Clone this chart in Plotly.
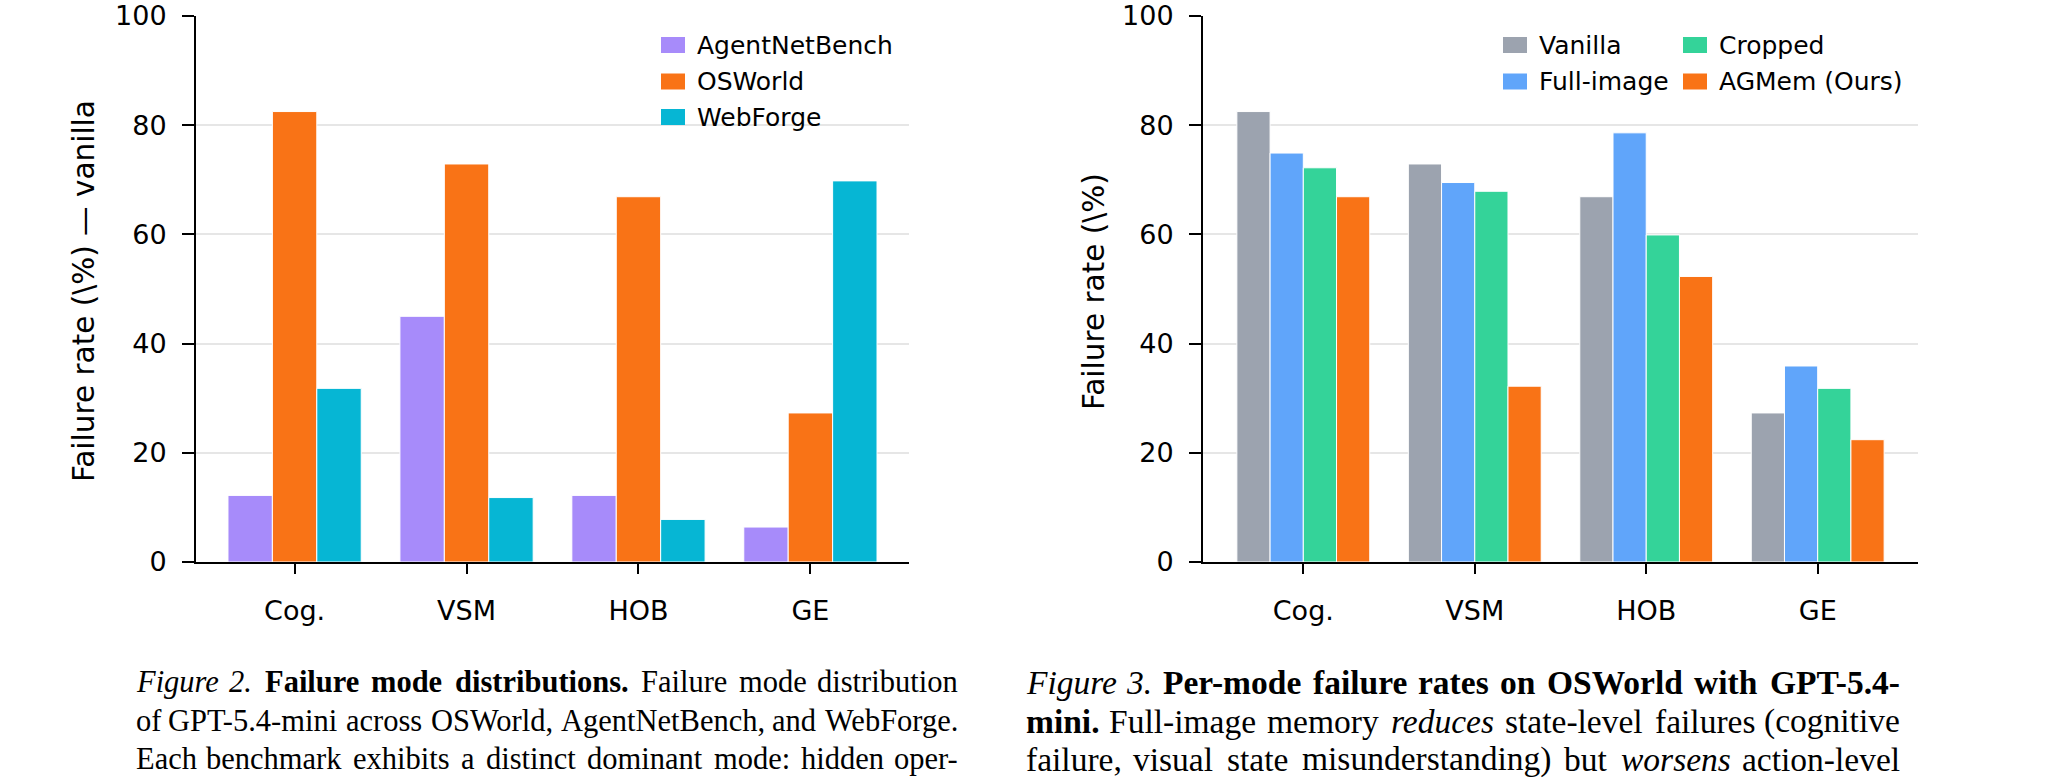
import plotly.graph_objects as go

# ---------------- data ----------------
categories = ["Cog.", "VSM", "HOB", "GE"]

# Figure 2 (left): vanilla failure rates per benchmark
agentnetbench = [12.2, 45.0, 12.2, 6.4]
osworld = [82.5, 72.9, 66.9, 27.3]
webforge = [31.8, 11.8, 7.8, 69.8]

# Figure 3 (right): OSWorld per-mode failure rates by memory variant
vanilla = [82.5, 72.9, 66.9, 27.3]
full_image = [74.9, 69.5, 78.6, 35.9]
cropped = [72.2, 67.9, 59.9, 31.8]
agmem = [66.9, 32.2, 52.3, 22.4]

y_ticks = [0, 20, 40, 60, 80, 100]

left_series = [("AgentNetBench", agentnetbench, "#a78bfa"),
               ("OSWorld", osworld, "#f97316"),
               ("WebForge", webforge, "#06b6d4")]
right_series = [("Vanilla", vanilla, "#9ca3af"),
                ("Full-image", full_image, "#60a5fa"),
                ("Cropped", cropped, "#34d399"),
                ("AGMem (Ours)", agmem, "#f97316")]

# caption lines as (text, style) segments: r=roman, i=italic, b=bold
captions_left = [
    [("Figure 2.", "i"), ("Failure mode distributions.", "b"), ("Failure mode distribution", "r")],
    [("of GPT-5.4-mini across OSWorld, AgentNetBench, and WebForge.", "r")],
    [("Each benchmark exhibits a distinct dominant mode: hidden oper-", "r")],
]
captions_right = [
    [("Figure 3.", "i"), ("Per-mode failure rates on OSWorld with GPT-5.4-", "b")],
    [("mini.", "b"), ("Full-image memory", "r"), ("reduces", "i"), ("state-level failures (cognitive", "r")],
    [("failure, visual state misunderstanding) but", "r"), ("worsens", "i"), ("action-level", "r")],
]

# ---------------- layout helpers ----------------
W, H = 2048, 784
def px(x):
    return x / W
def py(y):
    return 1 - y / H

TICK_FONT = dict(family="DejaVu Sans", size=27, color="black")
LEG_FONT = dict(family="DejaVu Sans", size=25, color="black")
TITLE_FONT = dict(family="DejaVu Sans", size=29.5, color="black")

# Times-compatible advance widths (per 1000 em) for justification of captions
_R = dict(zip("abcdefghijklmnopqrstuvwxyz", [444,500,444,500,444,333,500,500,278,278,500,278,778,500,500,500,500,333,389,278,500,500,722,500,500,444]))
_R.update(dict(zip("ABCDEFGHIJKLMNOPQRSTUVWXYZ", [722,667,667,722,611,556,722,722,333,389,722,611,889,722,722,556,722,667,556,611,722,722,944,722,722,611])))
_R.update({".": 250, ",": 250, "-": 333, ":": 278, "(": 333, ")": 333, " ": 250})
_R.update({d: 500 for d in "0123456789"})
_B = dict(zip("abcdefghijklmnopqrstuvwxyz", [500,556,444,556,444,333,500,556,278,333,556,278,833,556,500,556,556,444,389,333,556,500,722,500,500,444]))
_B.update(dict(zip("ABCDEFGHIJKLMNOPQRSTUVWXYZ", [722,667,722,722,667,611,778,778,389,500,778,667,944,722,778,611,778,722,556,667,722,722,1000,722,722,667])))
_B.update({".": 250, ",": 250, "-": 333, ":": 333, "(": 333, ")": 333, " ": 250})
_B.update({d: 500 for d in "0123456789"})
_I = dict(zip("abcdefghijklmnopqrstuvwxyz", [500,500,444,500,444,278,500,500,278,278,444,278,722,500,500,500,500,389,389,278,500,444,667,444,444,389]))
_I.update(dict(zip("ABCDEFGHIJKLMNOPQRSTUVWXYZ", [611,611,667,722,611,611,722,722,333,444,667,556,833,667,722,611,722,611,500,556,722,611,833,611,556,556])))
_I.update({".": 250, ",": 250, "-": 333, ":": 333, "(": 333, ")": 333, " ": 250})
_I.update({d: 500 for d in "0123456789"})
METRICS = {"r": _R, "b": _B, "i": _I}

def word_width(word, style, size):
    tab = METRICS[style]
    return sum(tab.get(c, 500) for c in word) / 1000.0 * size

def markup(word, style):
    if style == "b":
        return "<b>" + word + "</b>"
    if style == "i":
        return "<i>" + word + "</i>"
    return word

xpos = list(range(len(categories)))

fig = go.Figure()
for name, vals, col in left_series:
    fig.add_trace(go.Bar(x=xpos, y=vals, name=name, marker=dict(color=col, line=dict(color="white", width=1)),
                         xaxis="x", yaxis="y", showlegend=False))
for name, vals, col in right_series:
    fig.add_trace(go.Bar(x=xpos, y=vals, name=name, marker=dict(color=col, line=dict(color="white", width=1)),
                         xaxis="x2", yaxis="y2", showlegend=False))

ydom = [py(562), py(16)]
xcommon = dict(tickvals=xpos, ticktext=categories, showline=True, linecolor="black", linewidth=2,
               ticks="outside", ticklen=10, tickwidth=2, tickcolor="black", tickfont=TICK_FONT,
               showgrid=False, zeroline=False, ticklabelstandoff=14, automargin=False)
ycommon = dict(range=[0, 100], tickvals=y_ticks, showline=True, linecolor="black", linewidth=2,
               ticks="outside", ticklen=12, tickwidth=2, tickcolor="black", tickfont=TICK_FONT,
               showgrid=True, gridcolor="#e6e6e6", gridwidth=1.5, zeroline=False, ticklabelstandoff=10,
               domain=ydom, automargin=False)

fig.update_layout(
    width=W, height=H, margin=dict(l=0, r=0, t=0, b=0, autoexpand=False),
    paper_bgcolor="white", plot_bgcolor="white",
    barmode="group", bargap=0.225, bargroupgap=0,
    xaxis=dict(domain=[px(196), px(909)], range=[-0.5735, 3.5735], anchor="y", **xcommon),
    yaxis=dict(anchor="x", **ycommon),
    xaxis2=dict(domain=[px(1203), px(1918)], range=[-0.585, 3.585], anchor="y2", **xcommon),
    yaxis2=dict(anchor="x2", **ycommon),
)

annotations = []
shapes = []

# axis titles
annotations.append(dict(x=px(84), y=py(291), xref="paper", yref="paper", text="Failure rate (\\%) — vanilla",
                        textangle=-90, showarrow=False, font=TITLE_FONT, xanchor="center", yanchor="middle"))
annotations.append(dict(x=px(1094), y=py(292), xref="paper", yref="paper", text="Failure rate (\\%)",
                        textangle=-90, showarrow=False, font=TITLE_FONT, xanchor="center", yanchor="middle"))

# manual legends
def legend_item(x_sq, y_c, label, col):
    shapes.append(dict(type="rect", xref="paper", yref="paper", x0=px(x_sq), x1=px(x_sq + 24),
                       y0=py(y_c + 8), y1=py(y_c - 8), fillcolor=col, line=dict(width=0)))
    annotations.append(dict(x=px(x_sq + 34), y=py(y_c), xref="paper", yref="paper", text=label,
                            showarrow=False, font=LEG_FONT, xanchor="left", yanchor="middle"))

left_rows = [45, 81.5, 117]
for (name, _, col), yc in zip(left_series, left_rows):
    legend_item(661, yc, name, col)

right_pos = [(1503, 45), (1503, 81.5), (1683, 45), (1683, 81.5)]
for (name, _, col), (xs, yc) in zip(right_series, right_pos):
    legend_item(xs, yc, name, col)

# justified captions: each word placed separately
def justified_line(segments, x0, x1, yc, size):
    font = dict(family="Liberation Serif", size=size, color="black")
    words = []
    for text, style in segments:
        for w in text.split(" "):
            if w:
                words.append((w, style))
    widths = [word_width(w, s, size) for w, s in words]
    gap = (x1 - x0 - sum(widths)) / (len(words) - 1)
    left = x0
    for k, ((w, s), wd) in enumerate(zip(words, widths)):
        if k == 0:
            ax, anc = left, "left"
        elif k == len(words) - 1:
            ax, anc = x1, "right"
        else:
            ax, anc = left + wd / 2, "center"
        annotations.append(dict(x=px(ax), y=py(yc), xref="paper", yref="paper", text=markup(w, s),
                                showarrow=False, font=font, xanchor=anc, yanchor="middle"))
        left += wd + gap

cap_rows = [682, 721, 759]
for segs, yc in zip(captions_left, cap_rows):
    justified_line(segs, 134, 960, yc, 30.5)
for segs, yc in zip(captions_right, cap_rows):
    justified_line(segs, 1024, 1902, yc, 33.5)

fig.update_layout(annotations=annotations, shapes=shapes)
fig.write_html("out.html")
